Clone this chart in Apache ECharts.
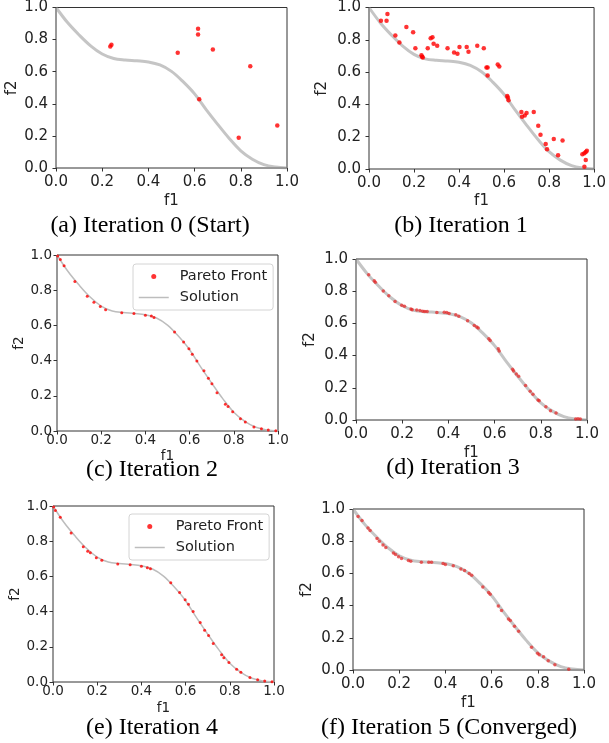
<!DOCTYPE html>
<html>
<head>
<meta charset="utf-8">
<script src="https://cdn.jsdelivr.net/npm/echarts@6/dist/echarts.min.js"></script>
<style>html,body{margin:0;padding:0;background:#fff}#c{width:609px;height:743px}</style>
</head>
<body>
<div id="c"></div>
<script>
// ---- data ----
const tickValues = [0, 0.2, 0.4, 0.6, 0.8, 1.0];
const captions = ['(a) Iteration 0 (Start)', '(b) Iteration 1', '(c) Iteration 2', '(d) Iteration 3', '(e) Iteration 4', '(f) Iteration 5 (Converged)'];
const legendNames = ['Pareto Front', 'Solution'];

const solutionF1 = [0, 0.05, 0.1, 0.15, 0.2, 0.25, 0.3, 0.35, 0.4, 0.45, 0.5, 0.55, 0.6, 0.65, 0.7, 0.75, 0.8, 0.85, 0.9, 0.95, 1.0];
const solutionF2 = [1.0, 0.906, 0.829, 0.761, 0.71, 0.682, 0.673, 0.668, 0.661, 0.642, 0.602, 0.538, 0.462, 0.364, 0.272, 0.184, 0.107, 0.055, 0.021, 0.006, 0.0];

const iter0 = [[0.235,0.757],[0.24,0.768],[0.527,0.718],[0.615,0.867],[0.615,0.832],[0.679,0.739],[0.841,0.634],[0.62,0.429],[0.791,0.188],[0.958,0.265]];

const iter1 = [[0.053,0.918],[0.078,0.918],[0.082,0.959],[0.117,0.827],[0.135,0.784],[0.166,0.88],[0.196,0.847],[0.206,0.748],[0.233,0.705],[0.236,0.695],[0.239,0.691],[0.261,0.748],[0.274,0.81],[0.282,0.816],[0.287,0.775],[0.303,0.763],[0.349,0.748],[0.378,0.722],[0.393,0.713],[0.402,0.755],[0.434,0.755],[0.442,0.726],[0.481,0.763],[0.51,0.748],[0.522,0.629],[0.527,0.629],[0.527,0.579],[0.572,0.647],[0.579,0.635],[0.614,0.452],[0.617,0.443],[0.62,0.425],[0.677,0.353],[0.68,0.324],[0.692,0.332],[0.7,0.346],[0.732,0.353],[0.752,0.268],[0.762,0.212],[0.785,0.155],[0.791,0.122],[0.821,0.186],[0.84,0.085],[0.86,0.177],[0.948,0.091],[0.957,0.097],[0.963,0.105],[0.968,0.113],[0.963,0.056],[0.957,0.014]];

const iter2 = [[0.003,0.995],[0.015,0.975],[0.032,0.939],[0.081,0.85],[0.137,0.765],[0.167,0.732],[0.196,0.708],[0.22,0.689],[0.293,0.672],[0.348,0.668],[0.4,0.657],[0.427,0.653],[0.439,0.645],[0.532,0.562],[0.573,0.505],[0.597,0.467],[0.612,0.436],[0.633,0.398],[0.665,0.342],[0.685,0.3],[0.701,0.268],[0.724,0.218],[0.762,0.152],[0.774,0.139],[0.795,0.11],[0.83,0.07],[0.852,0.051],[0.891,0.023],[0.925,0.013],[0.956,0.006],[0.99,0.002]];

const iter3 = [[0.055,0.902],[0.079,0.865],[0.084,0.855],[0.118,0.801],[0.142,0.772],[0.169,0.736],[0.198,0.712],[0.21,0.707],[0.238,0.689],[0.243,0.685],[0.263,0.683],[0.277,0.68],[0.289,0.676],[0.298,0.674],[0.308,0.674],[0.35,0.668],[0.382,0.67],[0.393,0.668],[0.403,0.662],[0.432,0.653],[0.445,0.645],[0.483,0.616],[0.512,0.587],[0.523,0.577],[0.529,0.571],[0.575,0.504],[0.581,0.494],[0.616,0.442],[0.62,0.429],[0.678,0.315],[0.682,0.305],[0.694,0.286],[0.704,0.272],[0.734,0.214],[0.754,0.178],[0.766,0.16],[0.788,0.124],[0.793,0.12],[0.822,0.083],[0.842,0.058],[0.866,0.044],[0.951,0.006],[0.961,0.008],[0.971,0.006]];

const iter4 = [[0.003,0.994],[0.011,0.975],[0.033,0.936],[0.082,0.847],[0.137,0.768],[0.157,0.743],[0.169,0.734],[0.196,0.706],[0.221,0.692],[0.293,0.67],[0.349,0.666],[0.4,0.658],[0.427,0.649],[0.441,0.643],[0.533,0.564],[0.573,0.508],[0.598,0.468],[0.613,0.442],[0.634,0.4],[0.666,0.338],[0.686,0.294],[0.704,0.264],[0.725,0.219],[0.763,0.155],[0.773,0.138],[0.796,0.111],[0.831,0.072],[0.85,0.055],[0.891,0.026],[0.926,0.013],[0.958,0.006],[0.991,0.002]];

const iter5 = [[0.022,0.954],[0.039,0.929],[0.065,0.882],[0.074,0.867],[0.104,0.817],[0.114,0.799],[0.13,0.776],[0.142,0.761],[0.175,0.726],[0.184,0.718],[0.197,0.703],[0.21,0.693],[0.24,0.68],[0.25,0.676],[0.296,0.67],[0.328,0.67],[0.34,0.67],[0.39,0.662],[0.4,0.656],[0.434,0.647],[0.467,0.627],[0.483,0.618],[0.503,0.6],[0.514,0.589],[0.562,0.515],[0.587,0.481],[0.594,0.471],[0.629,0.398],[0.643,0.369],[0.673,0.317],[0.681,0.307],[0.699,0.272],[0.717,0.241],[0.773,0.141],[0.799,0.104],[0.806,0.095],[0.825,0.083],[0.845,0.058],[0.874,0.033],[0.934,0.004]];

const iterations = [iter0, iter1, iter2, iter3, iter4, iter5];

// ---- layout / style (not data) ----
const panels = [
  {left:56, top:7,   width:231, height:161, font:15,   xGap:26, yGap:36, xMargin:7, yMargin:8, lw:3,   ps:4.5, capX:150, capY:226},
  {left:369,top:7,   width:232, height:162, font:15,   xGap:25, yGap:39, xMargin:7, yMargin:8, lw:3,   ps:4.5, capX:461, capY:226},
  {left:57, top:255, width:221, height:176, font:13.5, xGap:18, yGap:28, xMargin:2, yMargin:5, lw:1.5, ps:3,   capX:152, capY:470},
  {left:356,top:259, width:231, height:161, font:15,   xGap:26, yGap:38, xMargin:7, yMargin:8, lw:3,   ps:3.5, capX:453, capY:468},
  {left:53, top:506, width:221, height:176, font:13.5, xGap:19, yGap:26, xMargin:2, yMargin:5, lw:1.5, ps:3,   capX:152, capY:728},
  {left:353,top:509, width:231, height:161, font:15,   xGap:26, yGap:38, xMargin:7, yMargin:8, lw:3,   ps:3.5, capX:449, capY:728}
];

const solutionData = solutionF1.map((x, i) => [x, solutionF2[i]]);
const sans = 'DejaVu Sans';

const grid = [], xAxis = [], yAxis = [], series = [], graphic = [];
panels.forEach((p, i) => {
  grid.push({left:p.left, top:p.top, width:p.width, height:p.height, show:true, borderColor:'#333', borderWidth:1, backgroundColor:'transparent'});
  const common = {
    min:0, max:1, interval:0.2, gridIndex:i,
    axisLine:{show:false},
    axisTick:{show:true, length:3.5, lineStyle:{color:'#333', width:1}},
    splitLine:{show:false},
    nameTextStyle:{fontFamily:sans, fontSize:p.font, color:'#222'},
    nameLocation:'middle'
  };
  xAxis.push(Object.assign({}, common, {
    type:'value', name:'f1', nameGap:p.xGap,
    axisLabel:{fontFamily:sans, fontSize:p.font, color:'#222', margin:p.xMargin, formatter:v => v.toFixed(1)}
  }));
  yAxis.push(Object.assign({}, common, {
    type:'value', name:'f2', nameGap:p.yGap,
    axisLabel:{fontFamily:sans, fontSize:p.font, color:'#222', margin:p.yMargin, formatter:v => v.toFixed(1)}
  }));
  series.push({
    name:'Solution', type:'line', xAxisIndex:i, yAxisIndex:i, data:solutionData,
    smooth:0.35, symbol:'none', silent:true, z:2,
    lineStyle:{color:(p.lw>2 ? 'rgba(150,150,150,0.55)' : '#bdbdbd'), width:p.lw}
  });
  series.push({
    name:'Pareto Front', type:'scatter', xAxisIndex:i, yAxisIndex:i, data:iterations[i],
    symbol:'circle', symbolSize:p.ps, z:3,
    itemStyle:{color:(i===3||i===5) ? 'rgba(235,30,30,0.85)' : '#ff0000'}
  });
  graphic.push({type:'text', style:{text:captions[i], x:p.capX, y:p.capY, textAlign:'center', textVerticalAlign:'middle', font:'24px "Liberation Serif"', fill:'#000'}});
});

function makeLegend(left, top) {
  return {
    orient:'vertical', left:left, top:top, itemWidth:30, itemHeight:5, itemGap:6, itemTextGap:12,
    textStyle:{fontFamily:sans, fontSize:14.5, color:'#222', padding:[0,0,0,6]},
    backgroundColor:'rgba(255,255,255,0.85)', borderColor:'#d4d4d4', borderWidth:1, borderRadius:3,
    padding:[5,6,5,5], selectedMode:false,
    data:[
      {name:legendNames[0], icon:'circle'},
      {name:legendNames[1], lineStyle:{width:1.5, color:'#bdbdbd'}, itemStyle:{color:'rgba(0,0,0,0)', borderColor:'rgba(0,0,0,0)', borderWidth:0, opacity:0}}
    ]
  };
}

const chart = echarts.init(document.getElementById('c'), null, {renderer:'canvas'});
chart.setOption({
  animation:false,
  backgroundColor:'#fff',
  grid, xAxis, yAxis, series,
  legend:[makeLegend(133, 264), makeLegend(129, 514)],
  graphic
});
</script>
</body>
</html>
